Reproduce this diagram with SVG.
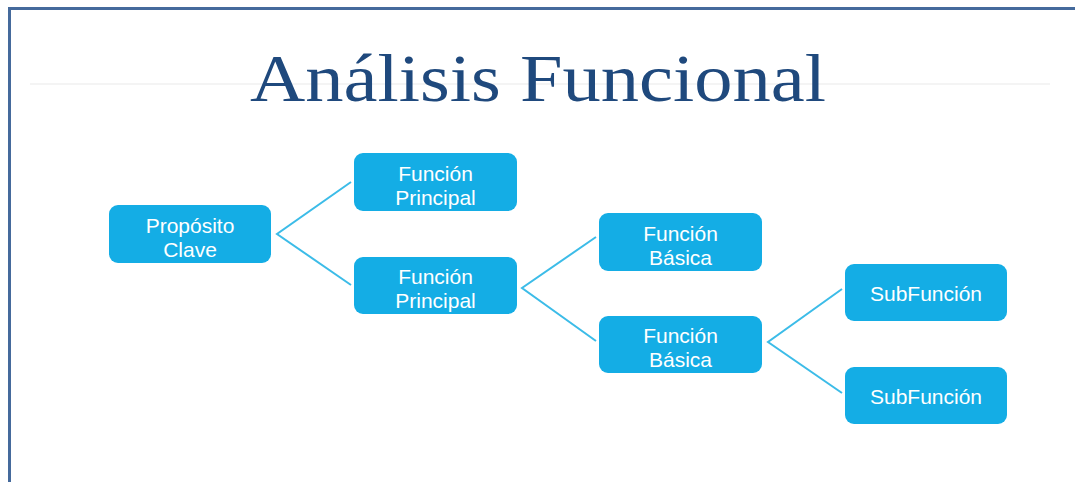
<svg xmlns="http://www.w3.org/2000/svg" width="1075" height="482" viewBox="0 0 1075 482">
  <style>
    .box { fill: #14ade5; }
    .lbl { fill: #ffffff; font-family: "Liberation Sans", Arial, sans-serif; font-size: 21px; text-anchor: middle; }
    .conn { fill: none; stroke: #3cbce8; stroke-width: 2; stroke-linejoin: miter; }
    .title { fill: #1f497d; font-family: "Liberation Serif", "Times New Roman", serif; font-size: 68px; }
  </style>
  <rect width="1075" height="482" fill="#ffffff"/>
  <!-- frame -->
  <path d="M9.5 482 V8.5 H1075" fill="none" stroke="#456a9c" stroke-width="3"/>
  <line x1="30" y1="84" x2="1050" y2="84" stroke="#f1f1f1" stroke-width="1.5"/>
  <text class="title" x="250" y="101" textLength="576" lengthAdjust="spacingAndGlyphs">Análisis Funcional</text>

  <g id="connectors">
    <polyline class="conn" points="351,182 277,234 351,285"/>
    <polyline class="conn" points="596,237 522,288 596,341"/>
    <polyline class="conn" points="842,289 768,342 842,393"/>
  </g>

  <g id="proposito">
    <rect class="box" x="109" y="205" width="162" height="58" rx="9"/>
    <text class="lbl" x="190" y="233">Propósito</text>
    <text class="lbl" x="190" y="257">Clave</text>
  </g>
  <g id="fp1">
    <rect class="box" x="354" y="153" width="163" height="58" rx="9"/>
    <text class="lbl" x="435.5" y="181">Función</text>
    <text class="lbl" x="435.5" y="205">Principal</text>
  </g>
  <g id="fp2">
    <rect class="box" x="354" y="257" width="163" height="57" rx="9"/>
    <text class="lbl" x="435.5" y="284">Función</text>
    <text class="lbl" x="435.5" y="308">Principal</text>
  </g>
  <g id="fb1">
    <rect class="box" x="599" y="213" width="163" height="58" rx="9"/>
    <text class="lbl" x="680.5" y="241">Función</text>
    <text class="lbl" x="680.5" y="265">Básica</text>
  </g>
  <g id="fb2">
    <rect class="box" x="599" y="316" width="163" height="57" rx="9"/>
    <text class="lbl" x="680.5" y="343">Función</text>
    <text class="lbl" x="680.5" y="367">Básica</text>
  </g>
  <g id="sf1">
    <rect class="box" x="845" y="264" width="162" height="57" rx="9"/>
    <text class="lbl" x="926" y="301">SubFunción</text>
  </g>
  <g id="sf2">
    <rect class="box" x="845" y="367" width="162" height="57" rx="9"/>
    <text class="lbl" x="926" y="404">SubFunción</text>
  </g>
</svg>
